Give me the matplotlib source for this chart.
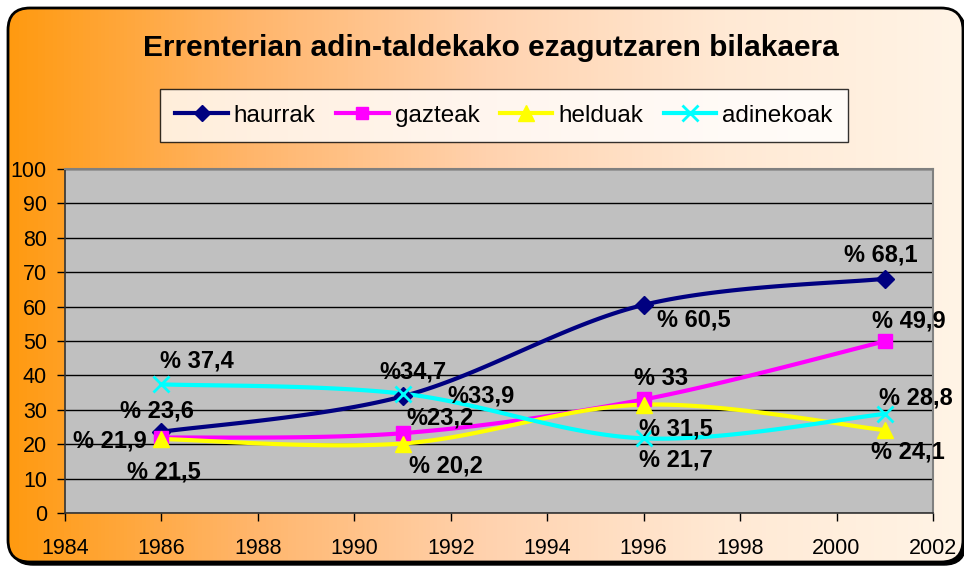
import numpy as np
import matplotlib
matplotlib.use("Agg")
import matplotlib.pyplot as plt
from matplotlib.patches import FancyBboxPatch

plt.rcParams['font.family'] = ['Liberation Sans', 'DejaVu Sans']

years = [1986, 1991, 1996, 2001]
haurrak = [23.6, 33.9, 60.5, 68.1]
gazteak = [21.9, 23.2, 33.0, 49.9]
helduak = [21.5, 20.2, 31.5, 24.1]
adinekoak = [37.4, 34.7, 21.7, 28.8]

labels_haurrak = ["% 23,6", "%33,9", "% 60,5", "% 68,1"]
labels_gazteak = ["% 21,9", "%23,2", "% 33", "% 49,9"]
labels_helduak = ["% 21,5", "% 20,2", "% 31,5", "% 24,1"]
labels_adinekoak = ["% 37,4", "%34,7", "% 21,7", "% 28,8"]

title = "Errenterian adin-taldekako ezagutzaren bilakaera"

W, H = 964, 568
fig = plt.figure(figsize=(W / 100, H / 100), dpi=100)

# background: rounded frame with horizontal orange gradient
bg = fig.add_axes([0, 0, 1, 1])
bg.set_xlim(0, W)
bg.set_ylim(H, 0)
bg.axis("off")
grad = np.linspace(0, 1, 256)[None, :]
cmap = matplotlib.colors.LinearSegmentedColormap.from_list(
    "bg", ["#ff9a10", "#ffb56a", "#ffd2ae", "#ffe9d4", "#fff4e6"])
img = bg.imshow(grad, extent=[8, W, H - 6, 8], aspect="auto", cmap=cmap, zorder=1)
shadow = FancyBboxPatch((11, 11), 955, 554, boxstyle="round,pad=0,rounding_size=22",
                        facecolor="black", edgecolor="black", zorder=0)
bg.add_patch(shadow)
frame = FancyBboxPatch((8, 8), 955, 554, boxstyle="round,pad=0,rounding_size=22",
                       facecolor="none", edgecolor="black", linewidth=2, zorder=2)
bg.add_patch(frame)
img.set_clip_path(frame)
fig.text(491 / W, 1 - 48 / H, title, ha="center", va="center",
         fontsize=21.5, fontweight="bold")

ax = fig.add_axes([65 / W, 1 - 513 / H, 868 / W, 344 / H])
ax.set_facecolor("#c0c0c0")
ax.set_xlim(1984, 2002)
ax.set_ylim(0, 100)
ax.set_xticks(range(1984, 2003, 2))
ax.set_yticks(range(0, 101, 10))
ax.tick_params(labelsize=15.5, length=6, width=1, direction="out")
ax.tick_params(axis="x", pad=12)
ax.tick_params(axis="y", pad=7)
ax.yaxis.grid(True, color="black", linewidth=1)
ax.set_axisbelow(True)
for side in ("top", "right"):
    ax.spines[side].set_color("#808080")
    ax.spines[side].set_linewidth(1.5)
for side in ("left", "bottom"):
    ax.spines[side].set_color("#333333")
    ax.spines[side].set_linewidth(1.2)

# pixel scales for the curve smoothing
sx = 868 / 18.0
sy = 344 / 100.0


def smooth(xs, ys, n=40):
    pts = np.column_stack([np.array(xs, float) * sx, np.array(ys, float) * sy])
    out = []
    for i in range(len(pts) - 1):
        p0 = pts[max(i - 1, 0)]
        p1 = pts[i]
        p2 = pts[i + 1]
        p3 = pts[min(i + 2, len(pts) - 1)]
        c1 = p1 + (p2 - p0) / 6.0
        c2 = p2 - (p3 - p1) / 6.0
        t = np.linspace(0, 1, n)[:, None]
        seg = ((1 - t) ** 3 * p1 + 3 * (1 - t) ** 2 * t * c1
               + 3 * (1 - t) * t ** 2 * c2 + t ** 3 * p2)
        out.append(seg if i == 0 else seg[1:])
    out = np.vstack(out)
    return out[:, 0] / sx, out[:, 1] / sy


series = [
    ("haurrak", haurrak, labels_haurrak, "#000080", "D", 9,
     [(-5, 21), (78, 0), (50, -15), (-4, 24)]),
    ("gazteak", gazteak, labels_gazteak, "#ff00ff", "s", 10,
     [(-52, -3), (38, 15), (17, 21), (24, 20)]),
    ("helduak", helduak, labels_helduak, "#ffff00", "^", 12,
     [(2, -33), (43, -22), (32, -24), (23, -22)]),
    ("adinekoak", adinekoak, labels_adinekoak, "#00ffff", "x", 12,
     [(35, 23), (10, 22), (32, -22), (31, 16)]),
]

handles = []
for name, vals, labs, color, marker, ms, offs in series:
    cx, cy = smooth(years, vals)
    ax.plot(cx, cy, color=color, linewidth=3, zorder=3, solid_capstyle="round")
    mew = 2 if marker == "x" else 1
    ax.plot(years, vals, linestyle="none", marker=marker, markersize=ms,
            color=color, markeredgecolor=color, markeredgewidth=mew, zorder=4)
    h, = ax.plot([], [], color=color, linewidth=3, marker=marker, markersize=ms - 1,
                 markeredgewidth=mew, label=name)
    handles.append(h)
    for x, v, lab, (dx, dy) in zip(years, vals, labs, offs):
        ax.annotate(lab, (x, v), xytext=(dx, dy), textcoords="offset pixels",
                    ha="center", va="center", fontsize=17, fontweight="bold",
                    zorder=5, annotation_clip=False)

leg = fig.legend(handles=handles, loc="center", ncol=4,
                 bbox_to_anchor=(504 / W, 1 - 115.5 / H), fontsize=17.5,
                 frameon=True, fancybox=False, edgecolor="black",
                 handlelength=2.15, handletextpad=0.25, columnspacing=0.85,
                 borderpad=0.62, borderaxespad=0)
leg.get_frame().set_linewidth(1)

fig.savefig("out.png", dpi=100)
